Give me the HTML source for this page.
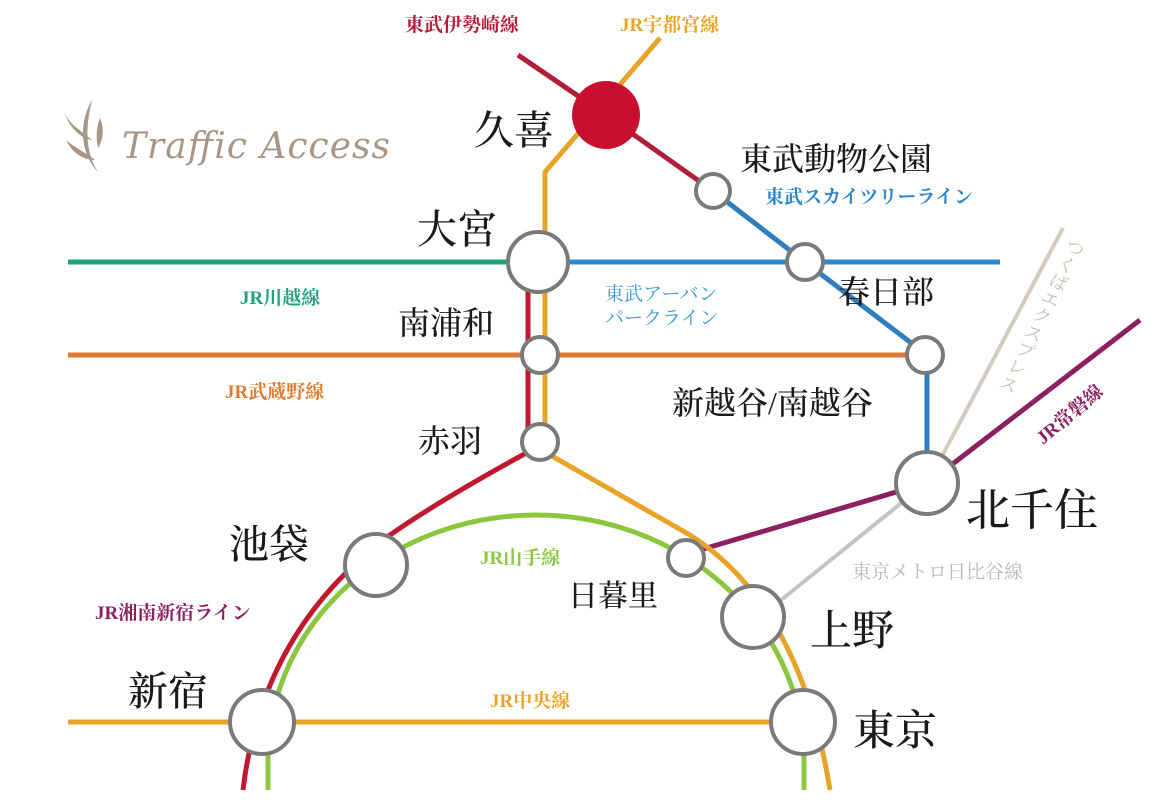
<!DOCTYPE html>
<html><head><meta charset="utf-8"><style>
html,body{margin:0;padding:0;background:#fff;}
svg{display:block;}
.st{font-family:"Liberation Serif","Noto Serif CJK SC",serif;fill:#1a1a1a;font-weight:500;}
.ln{font-family:"Liberation Serif","Noto Serif CJK SC",serif;font-weight:bold;}
</style></head><body>
<svg width="1171" height="800" viewBox="0 0 1171 800" xmlns="http://www.w3.org/2000/svg">
<rect width="1171" height="800" fill="#fff"/>
<g fill="none" stroke-width="5" stroke-linecap="butt">
<line x1="68" y1="262" x2="510" y2="262" stroke="#1ea37c"/>
<line x1="566" y1="262" x2="1000" y2="262" stroke="#2f86c8"/>
<line x1="68" y1="355" x2="910" y2="355" stroke="#dd7a30"/>
<line x1="68" y1="722" x2="805" y2="722" stroke="#e8a428"/>
<line x1="1063" y1="228" x2="940" y2="460" stroke="#d2cbbf" stroke-width="4"/>
<line x1="905" y1="500" x2="775" y2="605" stroke="#c4c4c4" stroke-width="4"/>
<polyline points="1140,320 950,466" stroke="#8c2060"/>
<polyline points="903,490 700,550" stroke="#8c2060"/>
<path d="M268 790 L268 760 A268 245 0 0 1 804 760 L804 790" stroke="#8cc63f"/>
<path d="M528 290 L528 452 Q440 500 390 535 Q262 630 243 790" stroke="#c0182f"/>
<path d="M660 38 L545 172 L545 452 L690 535 Q800 605 830 790" stroke="#e8a428"/>
<polyline points="518,55 606,115 713,191" stroke="#b01e3a"/>
<polyline points="713,191 805,262 927,355 927,483" stroke="#2f7fc0"/>
</g>
<g fill="#fff" stroke="#7a7a7a" stroke-width="4">
<circle cx="713" cy="191" r="17"/>
<circle cx="538" cy="262" r="30"/>
<circle cx="805" cy="262" r="18"/>
<circle cx="540" cy="355" r="18"/>
<circle cx="925" cy="355" r="18"/>
<circle cx="540" cy="442" r="18"/>
<circle cx="927" cy="483" r="31"/>
<circle cx="376" cy="565" r="31"/>
<circle cx="686" cy="558" r="18"/>
<circle cx="753" cy="617" r="31"/>
<circle cx="262" cy="722" r="32"/>
<circle cx="803" cy="722" r="32"/>
</g>
<circle cx="606" cy="115" r="34" fill="#c8102e"/>
<g fill="#a89787">
<path d="M92 100 C80 120 78 150 98 172 C84 150 86 125 92 100Z"/>
<path d="M64 112 C70 125 80 130 92 140 C80 138 70 128 64 112Z"/>
<path d="M66 140 C75 148 85 152 95 160 C82 160 72 152 66 140Z"/>
<path d="M100 118 C104 128 104 138 98 148 C96 138 96 128 100 118Z"/>
</g>
<text x="122" y="158" font-family="'DejaVu Serif','Liberation Serif',serif" font-style="italic" font-size="36" fill="#a89787" textLength="268">Traffic Access</text>
<g class="st">
<text x="474" y="144" font-size="40">久喜</text>
<text x="740" y="170" font-size="32">東武動物公園</text>
<text x="417" y="243" font-size="40">大宮</text>
<text x="838" y="303" font-size="32">春日部</text>
<text x="398" y="334" font-size="32">南浦和</text>
<text x="672" y="414" font-size="32">新越谷/南越谷</text>
<text x="418" y="452" font-size="32">赤羽</text>
<text x="966" y="525" font-size="44">北千住</text>
<text x="229" y="558" font-size="40">池袋</text>
<text x="568" y="606" font-size="30">日暮里</text>
<text x="810" y="645" font-size="42">上野</text>
<text x="128" y="705" font-size="40">新宿</text>
<text x="853" y="745" font-size="42">東京</text>
</g>
<g class="ln" font-size="19">
<text x="405" y="31" fill="#b01e3a">東武伊勢崎線</text>
<text x="620" y="31" fill="#e8a428">JR宇都宮線</text>
<text x="765" y="203" fill="#2f86c8">東武スカイツリーライン</text>
<text x="240" y="304" fill="#1ea37c">JR川越線</text>
<text x="605" y="300" fill="#3a9ad8" font-weight="normal">東武アーバン</text>
<text x="605" y="324" fill="#3a9ad8" font-weight="normal">パークライン</text>
<text x="225" y="398" fill="#dd7a30">JR武蔵野線</text>
<text x="480" y="564" fill="#8cc63f">JR山手線</text>
<text x="852" y="578" fill="#b8b8b8" font-weight="normal">東京メトロ日比谷線</text>
<text x="95" y="619" fill="#8c2060">JR湘南新宿ライン</text>
<text x="490" y="707" fill="#e8a428">JR中央線</text>
<text transform="translate(1078,238) rotate(26)" writing-mode="tb" fill="#c8bfb0" font-weight="normal">つくばエクスプレス</text>
<text transform="translate(1043,445) rotate(-40)" fill="#8c2060">JR常磐線</text>
</g>
</svg>
</body></html>
